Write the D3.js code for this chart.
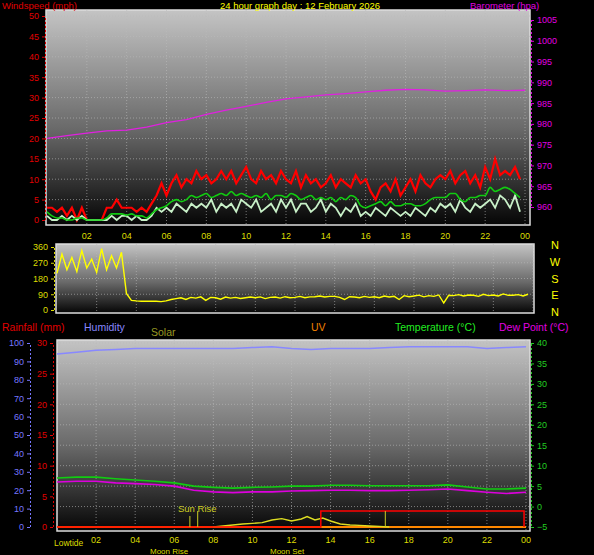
<!DOCTYPE html><html><head><meta charset="utf-8"><script src="https://cdn.jsdelivr.net/npm/d3@7"></script>
<style>body{margin:0;background:#000}svg{display:block;font-family:"Liberation Sans",Arial,sans-serif}</style></head><body><svg id="c" width="594" height="555"></svg><script>
const hourTicks=[2,4,6,8,10,12,14,16,18,20,22,24];
const hourLabels=["02","04","06","08","10","12","14","16","18","20","22","00"];
const gust=[3,3,2,3,1,3,0,3,0,0,0,0,3,3,5,3,3,3,2,3,2,4,6,9,6,9,11,8,10,9,12,10,11,9,10,12,10,12,9,11,13,10,9,12,10,11,9,12,10,9,12,8,11,9,10,8,9,11,8,10,9,8,11,9,10,7,5,8,9,7,10,6,8,10,7,11,9,8,10,11,10,12,9,11,12,9,11,8,13,10,15,11,12,11,13,10];
const avg=[2,1,0.5,0.5,0,0,0.5,0.5,0,0,0,0,0.5,1.5,1.5,1.5,1.2,1.5,1,1,0.5,1.5,2.5,3,3.5,4.5,5,4.5,5,6,5.5,6,6.5,5.5,6,6.5,6,7,6,6.5,6,5.5,6,5.5,6.5,5,6,6,5.5,6.5,6,5,5.5,6,5,5.5,5,5.5,4.5,5.5,5,6,5.5,3.5,3,3.5,4,4.5,3.5,4.5,3.5,3.5,4,4,3.5,3.5,4,5,5.5,5.5,5.5,6.5,6.5,5,4.5,5.5,5.5,6,6,8,7,7.5,8,7.5,6.5,5.5];
const speed=[1,0,0,1,0,1,0,1,0,0,0,0,0,1,0,1,1,0,1,0,0,1,3,2,3,2,4,3,2,4,3,4,3,5,2,4,3,4,2,5,4,3,5,2,3,4,2,5,3,5,2,4,4,2,3,5,2,4,3,1,3,2,4,1,2,1,3,2,1,3,2,1,2,1,3,2,1,3,2,4,3,4,2,5,3,2,4,3,4,5,3,6,5,3,6,2];
const baro=[976.5,977.2,977.8,978.3,978.5,979.2,980.3,981.0,982.3,983.3,984.2,985.2,986.0,986.5,987.0,987.3,987.7,988.1,988.3,988.2,987.9,988.0,988.2,988.0,988.1];
const dir=[210,320,230,300,220,340,240,290,215,350,230,310,240,330,95,55,52,50,50,50,50,48,52,60,65,70,60,72,68,75,55,72,70,62,74,68,72,66,70,74,70,75,65,72,74,68,76,70,72,78,70,75,76,80,74,78,78,72,60,76,74,70,78,72,76,70,80,74,78,60,82,76,80,85,75,82,78,86,40,84,82,88,80,86,84,78,90,82,86,80,92,84,84,88,80,90];
const hum=[94,95,96,96.5,97,97,97,97,97,97,97.5,98,97,96.5,97,97,97,97.5,98,98,98,98,97,97.5,98];
const temp=[7,7.2,7.2,6.8,6.5,6.2,5.8,5,4.7,4.5,4.7,4.8,5,5,5.2,5.2,5.1,5.1,5.1,5.1,5.3,4.8,4.3,4.3,4.5];
const dew=[6,6.2,6.2,5.8,5.6,5.4,5,4,3.6,3.4,3.6,3.6,3.8,3.9,4,4,3.9,3.9,4,4.1,4.3,3.9,3.5,3.2,3.5];
const solarT=[8,8.5,9,9.5,10,10.5,11,11.5,12,12.5,12.8,13.2,13.6,14,14.5,15,15.5,16,16.5,17];
const solar=[0,5,10,15,18,22,35,42,30,40,52,35,45,30,15,10,8,5,3,0];
const rainT=[0,13.5,13.5,23.9,23.9];
const rain=[0,0,2.6,2.6,0];

const svg=d3.select("#c");
const defs=svg.append("defs");
const g=defs.append("linearGradient").attr("id","bg").attr("x1",0).attr("y1",0).attr("x2",0).attr("y2",1);
g.append("stop").attr("offset",0).attr("stop-color","#c4c4c4");
g.append("stop").attr("offset",0.55).attr("stop-color","#6a6a6a");
g.append("stop").attr("offset",1).attr("stop-color","#050505");
const F="9px";
function panel(x0,x1,y0,y1,xs){
  svg.append("rect").attr("x",x0).attr("y",y0).attr("width",x1-x0).attr("height",y1-y0).attr("fill","url(#bg)").attr("stroke","#ddd").attr("stroke-width",1.5);
  hourTicks.forEach(h=>svg.append("line").attr("x1",xs(h)).attr("x2",xs(h)).attr("y1",y0).attr("y2",y1).attr("stroke","#bbb").attr("stroke-dasharray","1,2").attr("opacity",0.6));
}
function hgrid(x0,x1,ys,vals){vals.forEach(v=>svg.append("line").attr("x1",x0).attr("x2",x1).attr("y1",ys(v)).attr("y2",ys(v)).attr("stroke","#bbb").attr("stroke-dasharray","1,2").attr("opacity",0.6));}
function text(x,y,t,c,anchor,size){svg.append("text").attr("x",x).attr("y",y).attr("fill",c).attr("font-size",size||F).attr("text-anchor",anchor||"start").text(t);}
function axis(gen,tx,ty,col){const a=svg.append("g").attr("transform",`translate(${tx},${ty})`).call(gen);a.selectAll("text").attr("fill",col).attr("font-size",F);a.selectAll("line").attr("stroke",col);a.select(".domain").attr("stroke",col).attr("stroke-dasharray","2,2");return a;}

// TOP
const t15=d3.range(96).map(i=>i*0.25);
const x1=d3.scaleLinear().domain([0,24]).range([47,525]);
const yW=d3.scaleLinear().domain([0,50]).range([220,16]);
const yB=d3.scaleLinear().domain([960,1005]).range([207,20]);
panel(46,530,10,225,x1);hgrid(46,530,yW,d3.range(5,51,5));
const ln=(xs,ys)=>d3.line().x(d=>xs(d[0])).y(d=>ys(d[1]));
svg.append("path").attr("d",ln(x1,yW)(t15.map((t,i)=>[t,gust[i]]))).attr("fill","none").attr("stroke","#f00").attr("stroke-width",2.2);
svg.append("path").attr("d",ln(x1,yW)(t15.map((t,i)=>[t,speed[i]]))).attr("fill","none").attr("stroke","#c8f0c8").attr("stroke-width",1.8);
svg.append("path").attr("d",ln(x1,yW).curve(d3.curveMonotoneX)(t15.map((t,i)=>[t,avg[i]]))).attr("fill","none").attr("stroke","#1c1").attr("stroke-width",1.6);
svg.append("path").attr("d",ln(x1,yB)(baro.map((v,i)=>[i,v]))).attr("fill","none").attr("stroke","#e020e0").attr("stroke-width",1.3);
axis(d3.axisLeft(yW).tickValues(d3.range(0,51,5)).tickSize(3),45,0,"#e00000");
axis(d3.axisRight(yB).tickValues(d3.range(960,1006,5)).tickSize(3).tickFormat(d3.format("d")),531,0,"#e000e0");
hourTicks.forEach((h,i)=>text(x1(h),239,hourLabels[i],"#dd0","middle"));
text(2,9,"Windspeed (mph)","#e00000","start","9.5px");
text(300,9,"24 hour graph day : 12 February 2026","#ff0","middle","9.5px");
text(470,9,"Barometer (hpa)","#e000e0","start","9.5px");

// MIDDLE
const x2=d3.scaleLinear().domain([0,24]).range([57,533]);
const yD=d3.scaleLinear().domain([0,360]).range([310,247]);
panel(56,534,244,313,x2);hgrid(56,534,yD,[90,180,270]);
svg.append("path").attr("d",ln(x2,yD)(t15.map((t,i)=>[t,dir[i]]))).attr("fill","none").attr("stroke","#ff0").attr("stroke-width",1.4);
axis(d3.axisLeft(yD).tickValues([0,90,180,270,360]).tickSize(3),54,0,"#dd0");
["N","W","S","E","N"].forEach((s,i)=>text(555,[249,266,283,299,316][i],s,"#ff0","middle","11px"));

// LEGEND
text(2,331,"Rainfall (mm)","#e00000","start","10.5px");
text(84,331,"Humidity","#8888ff","start","10.5px");
text(151,336,"Solar","#999922","start","10.5px");
text(311,331,"UV","#f08000","start","10.5px");
text(395,331,"Temperature (°C)","#2e2","start","10.5px");
text(499,331,"Dew Point (°C)","#e000e0","start","10.5px");

// BOTTOM
const x3=d3.scaleLinear().domain([0,24]).range([57,526]);
const yH=d3.scaleLinear().domain([0,100]).range([527,343]);
const yR=d3.scaleLinear().domain([0,30]).range([527,343]);
const yT=d3.scaleLinear().domain([-5,40]).range([527,343]);
const yS=d3.scaleLinear().domain([0,920]).range([527,343]);
panel(57,530,340,531,x3);hgrid(57,530,yT,d3.range(-5,41,5));
svg.append("line").attr("x1",x3(0)).attr("x2",x3(24)).attr("y1",yR(0)).attr("y2",yR(0)).attr("stroke","#f80").attr("stroke-width",2);
svg.append("path").attr("d",ln(x3,yS)(solarT.map((t,i)=>[t,solar[i]]))).attr("fill","none").attr("stroke","#dd2").attr("stroke-width",1.4);
svg.append("path").attr("d",ln(x3,yR)(rainT.map((t,i)=>[t,rain[i]]))).attr("fill","none").attr("stroke","#f00").attr("stroke-width",1.5);
svg.append("path").attr("d",ln(x3,yH)(hum.map((v,i)=>[i,v]))).attr("fill","none").attr("stroke","#88f").attr("stroke-width",1.5);
svg.append("path").attr("d",ln(x3,yT)(temp.map((v,i)=>[i,v]))).attr("fill","none").attr("stroke","#1c1").attr("stroke-width",1.6);
svg.append("path").attr("d",ln(x3,yT)(dew.map((v,i)=>[i,v]))).attr("fill","none").attr("stroke","#d0d").attr("stroke-width",1.6);
[6.8,7.2,16.8].forEach(h=>svg.append("line").attr("x1",x3(h)).attr("x2",x3(h)).attr("y1",yR(0)).attr("y2",yR(0)-(h==6.8?11:16)).attr("stroke","#cc2"));
text(178,512,"Sun Rise","#cc2","start","9.5px");
axis(d3.axisLeft(yH).tickValues(d3.range(0,101,10)).tickSize(3),30,0,"#77f");
axis(d3.axisLeft(yR).tickValues(d3.range(0,31,5)).tickSize(3),53,0,"#e00000");
axis(d3.axisRight(yT).tickValues(d3.range(-5,41,5)).tickSize(3),531,0,"#2c2");
hourTicks.forEach((h,i)=>text(x3(h),543,hourLabels[i],"#dd0","middle"));
text(54,546,"Lowtide","#dd0","start","8.5px");
text(150,554,"Moon Rise","#dd0","start","8px");
text(270,554,"Moon Set","#dd0","start","8px");
</script></body></html>
